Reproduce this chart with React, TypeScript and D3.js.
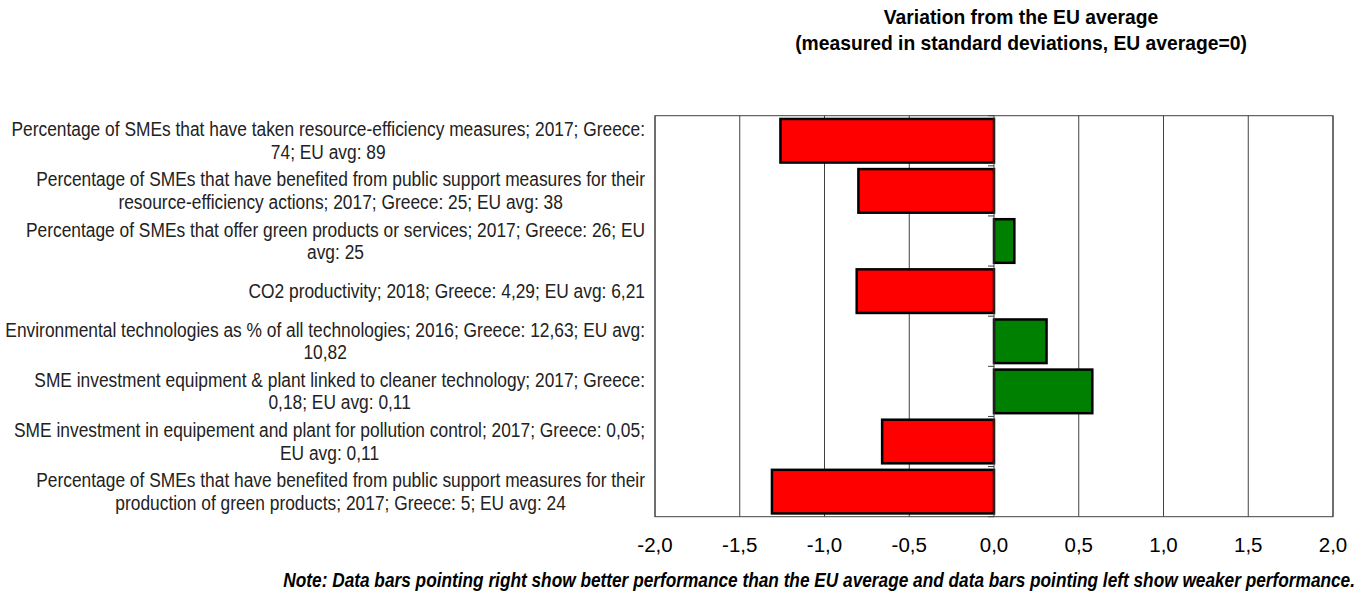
import React, { useEffect, useRef } from "react";
import * as d3 from "d3";

const categories: string[] = [
  "Percentage of SMEs that have taken resource-efficiency measures; 2017; Greece:\n74; EU avg: 89",
  "Percentage of SMEs that have benefited from public support measures for their\nresource-efficiency actions; 2017; Greece: 25; EU avg: 38",
  "Percentage of SMEs that offer green products or services; 2017; Greece: 26; EU\navg: 25",
  "CO2 productivity; 2018; Greece: 4,29; EU avg: 6,21",
  "Environmental technologies as % of all technologies; 2016; Greece: 12,63; EU avg:\n10,82",
  "SME investment equipment & plant linked to cleaner technology; 2017; Greece:\n0,18; EU avg: 0,11",
  "SME investment in equipement and plant for pollution control; 2017; Greece: 0,05;\nEU avg: 0,11",
  "Percentage of SMEs that have benefited from public support measures for their\nproduction of green products; 2017; Greece: 5; EU avg: 24",
];
const values: number[] = [-1.26, -0.8, 0.12, -0.81, 0.31, 0.58, -0.66, -1.31];
const xTicks: number[] = [-2, -1.5, -1, -0.5, 0, 0.5, 1, 1.5, 2];
const titleLines: string[] = [
  "Variation from the EU average",
  "(measured in standard deviations, EU average=0)",
];
const note =
  "Note: Data bars pointing right show better performance than the EU average and data bars pointing left show weaker performance.";

const W = 1365;
const H = 597;
const FONT = "'Liberation Sans', Arial, sans-serif";

export default function App() {
  const ref = useRef<SVGSVGElement | null>(null);

  useEffect(() => {
    document.body.style.margin = "0";
    const svg = d3.select(ref.current);
    svg.selectAll("*").remove();

    const left = 655, right = 1333, top = 115.7, bottom = 516.7;
    const x = d3.scaleLinear().domain([-2, 2]).range([left, right]);
    const y = d3
      .scaleBand<number>()
      .domain(d3.range(categories.length))
      .range([top, bottom])
      .paddingInner(0.13)
      .paddingOuter(0.065);

    // condense helper: emulate a narrow font
    const condense = (sel: d3.Selection<SVGTextElement, any, any, any>, k: number) => {
      const w = (sel.node() as SVGTextElement).getComputedTextLength();
      sel.attr("textLength", w * k).attr("lengthAdjust", "spacingAndGlyphs");
      return w * k;
    };

    // gridlines
    svg
      .append("g")
      .selectAll("line")
      .data(xTicks.filter((t) => t !== 0))
      .join("line")
      .attr("x1", (d) => x(d))
      .attr("x2", (d) => x(d))
      .attr("y1", top)
      .attr("y2", bottom)
      .attr("stroke", "#404040")
      .attr("stroke-width", 1);

    // plot frame
    svg
      .append("rect")
      .attr("x", left)
      .attr("y", top)
      .attr("width", right - left)
      .attr("height", bottom - top)
      .attr("fill", "none")
      .attr("stroke", "#404040")
      .attr("stroke-width", 1);

    // bars
    svg
      .append("g")
      .selectAll("rect")
      .data(values)
      .join("rect")
      .attr("x", (d) => x(Math.min(0, d)))
      .attr("width", (d) => Math.abs(x(d) - x(0)))
      .attr("y", (_, i) => y(i)!)
      .attr("height", y.bandwidth())
      .attr("fill", (d) => (d < 0 ? "#FF0000" : "#008000"))
      .attr("stroke", "#000")
      .attr("stroke-width", 2.5);

    // category axis at zero
    const step = y.step();
    const bounds = d3.range(categories.length + 1).map((i) => top + i * step);
    svg
      .append("line")
      .attr("x1", x(0))
      .attr("x2", x(0))
      .attr("y1", top)
      .attr("y2", bottom)
      .attr("stroke", "#404040")
      .attr("stroke-width", 1);
    svg
      .append("g")
      .selectAll("line")
      .data(bounds)
      .join("line")
      .attr("x1", x(0) - 6)
      .attr("x2", x(0))
      .attr("y1", (d) => d)
      .attr("y2", (d) => d)
      .attr("stroke", "#404040")
      .attr("stroke-width", 1);

    // x tick labels
    const fmt = (v: number) => d3.format(".1f")(v).replace(".", ",").replace("−", "-");
    svg
      .append("g")
      .selectAll("text")
      .data(xTicks)
      .join("text")
      .attr("x", (d) => x(d))
      .attr("y", 552)
      .attr("text-anchor", "middle")
      .attr("font-family", FONT)
      .attr("font-size", 20.5)
      .attr("fill", "#000")
      .text((d) => fmt(d));

    // category labels: centered lines, block right-aligned
    const labelRight = 645;
    const lh = 22.5;
    const fs = 19.5;
    const k = 0.89;
    categories.forEach((c, i) => {
      const lines = c.split("\n");
      const g = svg.append("g");
      const cy = y(i)! + y.bandwidth() / 2;
      const texts = lines.map((ln, j) =>
        g
          .append("text")
          .attr("y", cy + (j - (lines.length - 1) / 2) * lh)
          .attr("dy", "0.35em")
          .attr("text-anchor", "middle")
          .attr("font-family", FONT)
          .attr("font-size", fs)
          .attr("fill", "#222")
          .text(ln)
      );
      const widths = texts.map((t) => condense(t as any, k));
      const maxW = Math.max(...widths);
      texts.forEach((t) => t.attr("x", labelRight - maxW / 2));
    });

    // title
    titleLines.forEach((t, j) => {
      svg
        .append("text")
        .attr("x", 1021)
        .attr("y", 24 + j * 26)
        .attr("text-anchor", "middle")
        .attr("font-family", FONT)
        .attr("font-weight", "bold")
        .attr("font-size", 19.3)
        .attr("fill", "#000")
        .text(t);
    });

    // note (condensed via transform)
    svg
      .append("g")
      .attr("transform", "translate(1355,587) scale(0.885,1)")
      .append("text")
      .attr("x", 0)
      .attr("y", 0)
      .attr("text-anchor", "end")
      .attr("font-family", FONT)
      .attr("font-weight", "bold")
      .attr("font-style", "italic")
      .attr("font-size", 19.5)
      .attr("fill", "#000")
      .text(note);
  }, []);

  return (
    <svg
      ref={ref}
      width={W}
      height={H}
      style={{ position: "absolute", left: 0, top: 0, background: "#fff" }}
    />
  );
}
